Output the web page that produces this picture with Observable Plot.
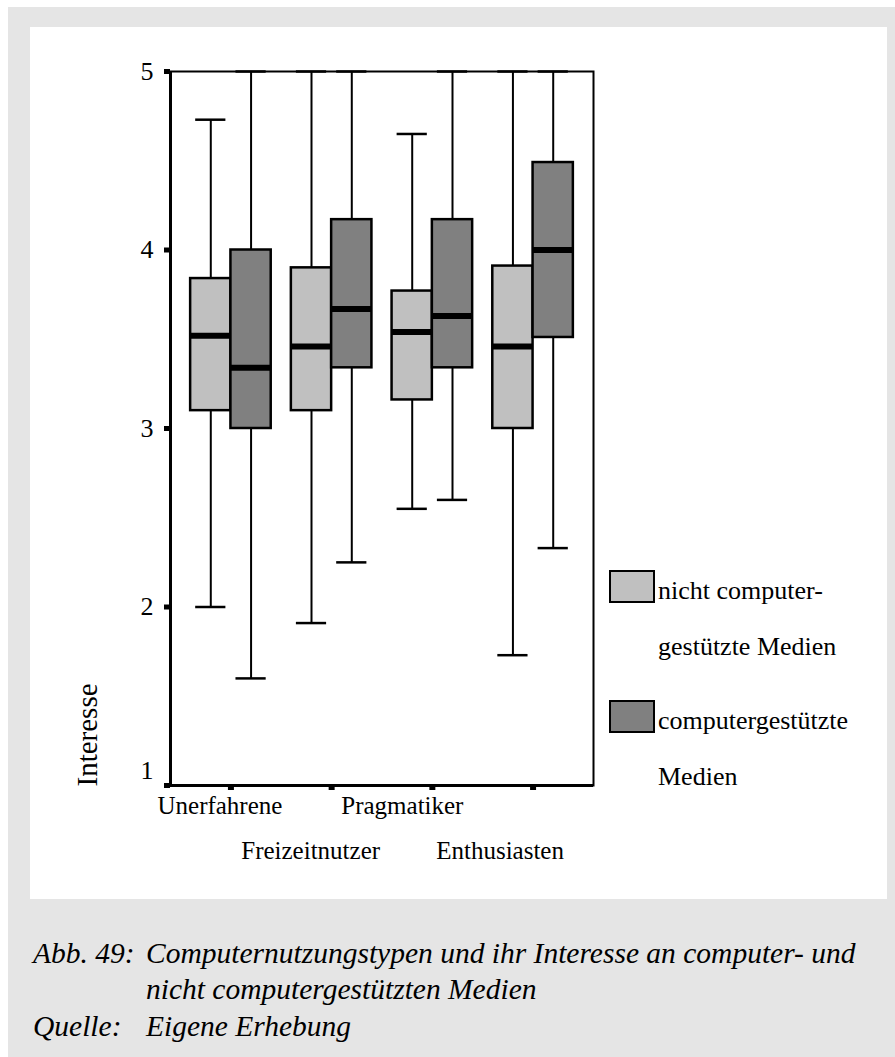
<!DOCTYPE html>
<html><head><meta charset="utf-8">
<script src="https://cdn.jsdelivr.net/npm/d3@7"></script>
<script src="https://cdn.jsdelivr.net/npm/@observablehq/plot@0.6"></script>
<style>
html,body{margin:0;padding:0;background:#fff;overflow:hidden;}
#bg{position:absolute;left:8px;top:7px;width:887px;height:1050px;background:#e5e5e5;}
#panel{position:absolute;left:30px;top:27px;width:857px;height:872px;background:#fff;}
#chart{position:absolute;left:30px;top:27px;}
.cap{position:absolute;font-family:"Liberation Serif","Times New Roman",serif;font-style:italic;font-size:29.5px;line-height:30px;white-space:nowrap;color:#000;}
</style></head><body>
<div id="bg"></div><div id="panel"></div>
<div id="chart"></div>
<div class="cap" style="left:33px;top:938px;">Abb. 49:</div>
<div class="cap" style="left:146px;top:938px;">Computernutzungstypen und ihr Interesse an computer- und</div>
<div class="cap" style="left:146px;top:974px;">nicht computergestützten Medien</div>
<div class="cap" style="left:33px;top:1011px;">Quelle:</div>
<div class="cap" style="left:146px;top:1011px;">Eigene Erhebung</div>
<script>
const categories = ["Unerfahrene", "Freizeitnutzer", "Pragmatiker", "Enthusiasten"];
const series = ["nicht computergestützte Medien", "computergestützte Medien"];
const yTicks = [1, 2, 3, 4, 5];
// nicht computergestützte Medien
const ncMin    = [2.00, 1.91, 2.55, 1.73];
const ncQ1     = [3.10, 3.10, 3.16, 3.00];
const ncMedian = [3.52, 3.46, 3.54, 3.46];
const ncQ3     = [3.84, 3.90, 3.77, 3.91];
const ncMax    = [4.73, 5.00, 4.65, 5.00];
// computergestützte Medien
const cMin    = [1.60, 2.25, 2.60, 2.33];
const cQ1     = [3.00, 3.34, 3.34, 3.51];
const cMedian = [3.34, 3.67, 3.63, 4.00];
const cQ3     = [4.00, 4.17, 4.17, 4.49];
const cMax    = [5.00, 5.00, 5.00, 5.00];

const colors = ["#c0c0c0", "#808080"];
const FONT = "'Liberation Serif', 'Times New Roman', serif";

const rows = [];
categories.forEach((cat, i) => {
  rows.push({cat, i, s: series[0], side: -1, min: ncMin[i], q1: ncQ1[i], med: ncMedian[i], q3: ncQ3[i], max: ncMax[i]});
  rows.push({cat, i, s: series[1], side: 1, min: cMin[i], q1: cQ1[i], med: cMedian[i], q3: cQ3[i], max: cMax[i]});
});
const HALF = 0.4;   // box width (in band units)
const CAP = 0.15;   // half cap width
const boxX1 = d => d.side < 0 ? d.i - HALF : d.i;
const boxX2 = d => d.side < 0 ? d.i : d.i + HALF;
const cx = d => d.i + d.side * HALF / 2;
const labelDx = [-11, -21, -30, -33];
const labelDy = [28, 73, 28, 73];

const marks = [
  Plot.ruleX(rows, {x: cx, y1: "min", y2: "max", stroke: "black", strokeWidth: 2}),
  Plot.ruleY(rows, {y: "min", x1: d => cx(d) - CAP, x2: d => cx(d) + CAP, stroke: "black", strokeWidth: 2.5}),
  Plot.ruleY(rows, {y: "max", x1: d => cx(d) - CAP, x2: d => cx(d) + CAP, stroke: "black", strokeWidth: 2.5}),
  Plot.rect(rows, {x1: boxX1, x2: boxX2, y1: "q1", y2: "q3", fill: "s", stroke: "black", strokeWidth: 2.5}),
  Plot.ruleY(rows, {y: "med", x1: boxX1, x2: boxX2, stroke: "black", strokeWidth: 6}),
  Plot.frame({stroke: "black", strokeWidth: 2}),
  Plot.ruleY([1], {stroke: "black", strokeWidth: 3}),
  Plot.ruleX([-0.6], {stroke: "black", strokeWidth: 3}),
  Plot.axisY(yTicks, {tickSize: 6, strokeWidth: 5, tickFormat: () => "", label: null}),
  Plot.axisX(categories.map((c, i) => i), {tickSize: 5, strokeWidth: 6, tickFormat: () => "", label: null}),
  Plot.text(yTicks.filter(v => v > 1), {y: d => d, text: d => String(d), frameAnchor: "left", textAnchor: "end", dx: -17, fontSize: 26}),
  Plot.text(yTicks.filter(v => v === 1), {y: d => d, text: d => String(d), frameAnchor: "left", textAnchor: "end", dx: -17, dy: -15, fontSize: 26}),
  Plot.text(["Interesse"], {frameAnchor: "bottom-left", rotate: -90, textAnchor: "start", dx: -74, dy: 1, fontSize: 29}),
  ...categories.map((c, i) => Plot.text([c], {x: () => i, text: d => d, frameAnchor: "bottom", dx: labelDx[i], dy: labelDy[i], fontSize: 25}))
];

const chart = Plot.plot({
  width: 857, height: 872,
  marginLeft: 140, marginRight: 294, marginTop: 44, marginBottom: 114,
  style: {fontFamily: FONT, background: "transparent", color: "black", overflow: "visible"},
  x: {type: "linear", domain: [-0.6, 3.6], axis: null},
  y: {domain: [1, 5], axis: null},
  color: {domain: series, range: colors},
  marks
});
document.getElementById("chart").appendChild(chart);

// legend
const svg = d3.select(chart);
const lg = svg.append("g").attr("font-family", FONT).attr("font-size", 26).attr("text-anchor", "start");
const legendItems = [
  {color: colors[0], lines: ["nicht computer-", "gestützte Medien"], y: 544},
  {color: colors[1], lines: ["computergestützte", "Medien"], y: 674}
];
legendItems.forEach(it => {
  lg.append("rect").attr("x", 580).attr("y", it.y).attr("width", 44).attr("height", 31)
    .attr("fill", it.color).attr("stroke", "black").attr("stroke-width", 2);
  it.lines.forEach((t, k) => {
    lg.append("text").attr("x", 628).attr("y", it.y + 28 + k * 56)
      .attr("text-anchor", "start").attr("fill", "black").text(t);
  });
});
</script>
</body></html>
